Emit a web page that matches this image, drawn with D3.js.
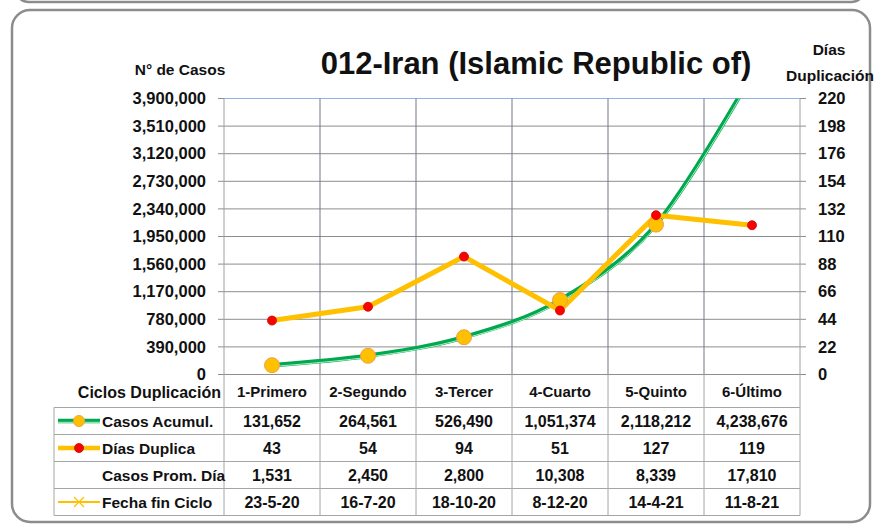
<!DOCTYPE html>
<html>
<head>
<meta charset="utf-8">
<script src="https://cdn.jsdelivr.net/npm/d3@7"></script>
<style>
  body { margin: 0; background: #fff; }
  text { font-family: "Liberation Sans", Arial, sans-serif; font-weight: bold; fill: #111; }
</style>
</head>
<body>
<div id="chart"></div>
<script>
// data
const cycles = ["1-Primero", "2-Segundo", "3-Tercer", "4-Cuarto", "5-Quinto", "6-Último"];
const casosAcum = [131652, 264561, 526490, 1051374, 2118212, 4238676];
const diasDuplica = [43, 54, 94, 51, 127, 119];
const casosPromDia = [1531, 2450, 2800, 10308, 8339, 17810];
const fechaFin = ["23-5-20", "16-7-20", "18-10-20", "8-12-20", "14-4-21", "11-8-21"];
const leftTicks = [0, 390000, 780000, 1170000, 1560000, 1950000, 2340000, 2730000, 3120000, 3510000, 3900000];
const rightTicks = [0, 22, 44, 66, 88, 110, 132, 154, 176, 198, 220];
const rowLabels = ["Casos Acumul.", "Días Duplica", "Casos Prom. Día", "Fecha fin Ciclo"];

const W = 876, H = 527;
const plot = {left: 224, right: 800, top: 98.5, bottom: 374.5};

const svg = d3.select("#chart").append("svg")
    .attr("width", W).attr("height", H);

// frames (previous chart's bottom edge + this one)
svg.append("rect")
    .attr("x", 15).attr("y", -60).attr("width", 850).attr("height", 62)
    .attr("rx", 14).attr("fill", "none")
    .attr("stroke", "#8c8c8c").attr("stroke-width", 2.5);
svg.append("rect")
    .attr("x", 12).attr("y", 10).attr("width", 858).attr("height", 512)
    .attr("rx", 18).attr("fill", "#fff")
    .attr("stroke", "#8c8c8c").attr("stroke-width", 2.5);

const x = d3.scaleBand().domain(cycles).range([plot.left, plot.right]);
const cx = d => x(d) + x.bandwidth() / 2;
const yL = d3.scaleLinear().domain([0, 3900000]).range([plot.bottom, plot.top]);
const yR = d3.scaleLinear().domain([0, 220]).range([plot.bottom, plot.top]);

// horizontal gridlines (with tick stubs on both sides)
svg.append("g").selectAll("line")
    .data(leftTicks.slice(0, -1))
    .enter().append("line")
    .attr("x1", plot.left - 6).attr("x2", plot.right + 6)
    .attr("y1", d => yL(d)).attr("y2", d => yL(d))
    .attr("stroke", "#8e8e8e").attr("stroke-width", 1);
// top border of plot area
svg.append("line")
    .attr("x1", plot.left).attr("x2", plot.right)
    .attr("y1", plot.top).attr("y2", plot.top)
    .attr("stroke", "#8db4e2").attr("stroke-width", 1.2);
svg.append("line")
    .attr("x1", plot.left - 6).attr("x2", plot.left)
    .attr("y1", plot.top).attr("y2", plot.top)
    .attr("stroke", "#8e8e8e");
svg.append("line")
    .attr("x1", plot.right).attr("x2", plot.right + 6)
    .attr("y1", plot.top).attr("y2", plot.top)
    .attr("stroke", "#8e8e8e");

// vertical category lines
const vlines = cycles.map(c => x(c)).concat([plot.right]);
svg.append("g").selectAll("line")
    .data(vlines)
    .enter().append("line")
    .attr("x1", d => d).attr("x2", d => d)
    .attr("y1", plot.top).attr("y2", plot.bottom)
    .attr("stroke", (d, i) => (i === 0 || i === vlines.length - 1) ? "#a0a0a0" : "#6f7889")
    .attr("stroke-width", 1);

// axes labels
const axL = svg.append("g")
    .attr("transform", `translate(${plot.left},0)`)
    .call(d3.axisLeft(yL).tickValues(leftTicks).tickFormat(d3.format(",")).tickSize(0).tickPadding(18));
const axR = svg.append("g")
    .attr("transform", `translate(${plot.right},0)`)
    .call(d3.axisRight(yR).tickValues(rightTicks).tickSize(0).tickPadding(18));
[axL, axR].forEach(a => {
    a.select(".domain").remove();
    a.selectAll("text").attr("font-size", 16.5).attr("font-family", null).attr("fill", "#111");
});

// titles
svg.append("text").attr("x", 536).attr("y", 74).attr("text-anchor", "middle")
    .attr("font-size", 31).text("012-Iran (Islamic Republic of)");
svg.append("text").attr("x", 180).attr("y", 75).attr("text-anchor", "middle")
    .attr("font-size", 15.5).text("N° de Casos");
svg.append("text").attr("x", 829).attr("y", 55).attr("text-anchor", "middle")
    .attr("font-size", 15.5).text("Días");
svg.append("text").attr("x", 830).attr("y", 81).attr("text-anchor", "middle")
    .attr("font-size", 15.5).text("Duplicación");

// series
svg.append("clipPath").attr("id", "plotclip")
    .append("rect").attr("x", plot.left).attr("y", plot.top)
    .attr("width", plot.right - plot.left).attr("height", plot.bottom - plot.top);

const g = svg.append("g").attr("clip-path", "url(#plotclip)");

const casosLine = d3.line()
    .x((d, i) => cx(cycles[i]))
    .y(d => yL(d))
    .curve(d3.curveCardinal.tension(0));
g.append("path").datum(casosAcum)
    .attr("d", casosLine).attr("fill", "none")
    .attr("stroke", "#00a84f").attr("stroke-width", 4.5);
g.append("path").datum(casosAcum)
    .attr("d", casosLine).attr("fill", "none")
    .attr("transform", "translate(0.6,1.3)")
    .attr("stroke", "#b5ecc8").attr("stroke-width", 1);

const diasLine = d3.line()
    .x((d, i) => cx(cycles[i]))
    .y(d => yR(d));
g.append("path").datum(diasDuplica)
    .attr("d", diasLine).attr("fill", "none")
    .attr("stroke", "#ffc000").attr("stroke-width", 5)
    .attr("stroke-linejoin", "round");

g.append("g").selectAll("circle")
    .data(casosAcum)
    .enter().append("circle")
    .attr("cx", (d, i) => cx(cycles[i])).attr("cy", d => yL(d))
    .attr("r", 7.5)
    .attr("fill", "#ffc000").attr("stroke", "#f0a040").attr("stroke-width", 1);

g.append("g").selectAll("circle")
    .data(diasDuplica)
    .enter().append("circle")
    .attr("cx", (d, i) => cx(cycles[i])).attr("cy", d => yR(d))
    .attr("r", 4.5)
    .attr("fill", "#ff0000").attr("stroke", "#d00000").attr("stroke-width", 0.8);

// data table
const tableLeft = 54;
const rowTop = [407.5, 434.5, 461.5, 488.5];
const rowH = 27;
const tableBottom = rowTop[3] + rowH;
const tbl = svg.append("g");
const lineColor = "#a6a6a6";

rowTop.concat([tableBottom]).forEach(yy => {
    tbl.append("line").attr("x1", tableLeft).attr("x2", plot.right)
        .attr("y1", yy).attr("y2", yy).attr("stroke", lineColor);
});
tbl.append("line").attr("x1", tableLeft).attr("x2", tableLeft)
    .attr("y1", rowTop[0]).attr("y2", tableBottom).attr("stroke", lineColor);
vlines.forEach(xx => {
    tbl.append("line").attr("x1", xx).attr("x2", xx)
        .attr("y1", plot.bottom).attr("y2", tableBottom).attr("stroke", lineColor);
});

// header row
tbl.append("text").attr("x", 221).attr("y", 397.5).attr("text-anchor", "end")
    .attr("font-size", 16).text("Ciclos Duplicación");
tbl.selectAll(".hdr").data(cycles).enter().append("text")
    .attr("class", "hdr")
    .attr("x", d => cx(d)).attr("y", 397)
    .attr("text-anchor", "middle").attr("font-size", 15).text(d => d);

// body rows
const fmt = d3.format(",");
const rows = [casosAcum.map(fmt), diasDuplica.map(String), casosPromDia.map(fmt), fechaFin];
rows.forEach((vals, r) => {
    const yy = rowTop[r] + rowH / 2 + 5.5;
    tbl.append("text").attr("x", 102).attr("y", yy)
        .attr("font-size", 15.5).text(rowLabels[r]);
    tbl.selectAll(".r" + r).data(vals).enter().append("text")
        .attr("class", "r" + r)
        .attr("x", (d, i) => cx(cycles[i])).attr("y", yy)
        .attr("text-anchor", "middle").attr("font-size", 16).text(d => d);
});

// legend keys inside the table
const ky = r => rowTop[r] + rowH / 2;
tbl.append("line").attr("x1", 58).attr("x2", 100).attr("y1", ky(0)).attr("y2", ky(0))
    .attr("stroke", "#00a84f").attr("stroke-width", 4.5);
tbl.append("line").attr("x1", 58).attr("x2", 100).attr("y1", ky(0) + 1.3).attr("y2", ky(0) + 1.3)
    .attr("stroke", "#b5ecc8").attr("stroke-width", 1);
tbl.append("circle").attr("cx", 79).attr("cy", ky(0)).attr("r", 5.5)
    .attr("fill", "#ffc000").attr("stroke", "#f0a040");

tbl.append("line").attr("x1", 58).attr("x2", 100).attr("y1", ky(1)).attr("y2", ky(1))
    .attr("stroke", "#ffc000").attr("stroke-width", 4.5);
tbl.append("circle").attr("cx", 79).attr("cy", ky(1)).attr("r", 4.5)
    .attr("fill", "#ff0000").attr("stroke", "#d00000").attr("stroke-width", 0.8);

tbl.append("line").attr("x1", 58).attr("x2", 100).attr("y1", ky(3)).attr("y2", ky(3))
    .attr("stroke", "#ffc000").attr("stroke-width", 1.8);
tbl.append("path")
    .attr("d", `M${74},${ky(3) - 5}L${84},${ky(3) + 5}M${74},${ky(3) + 5}L${84},${ky(3) - 5}`)
    .attr("stroke", "#ffc000").attr("stroke-width", 1.2);
</script>
</body>
</html>
